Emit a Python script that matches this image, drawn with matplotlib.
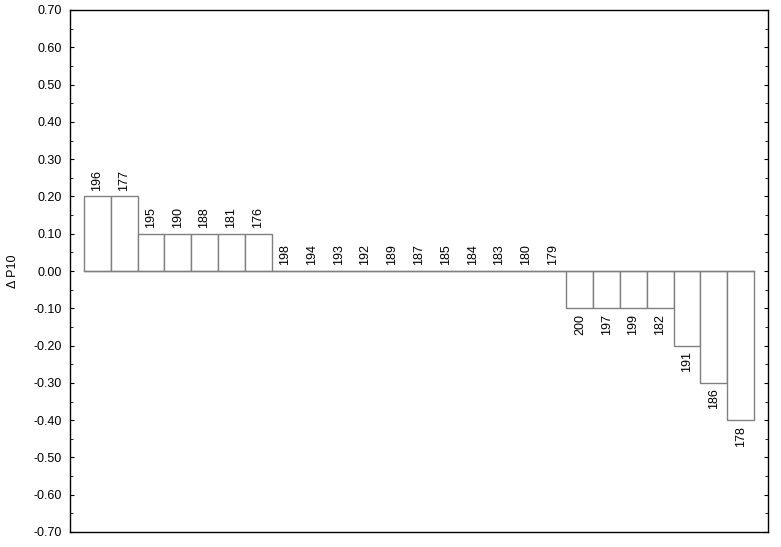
import matplotlib.pyplot as plt
from matplotlib.ticker import MultipleLocator, FormatStrFormatter

plt.rcParams['font.family'] = ['Liberation Sans', 'DejaVu Sans']

# 样本编号与 ΔP10 值
labels = ["196", "177", "195", "190", "188", "181", "176",
          "198", "194", "193", "192", "189", "187", "185", "184", "183", "180", "179",
          "200", "197", "199", "182", "191", "186", "178"]
values = [0.2, 0.2, 0.1, 0.1, 0.1, 0.1, 0.1,
          0, 0, 0, 0, 0, 0, 0, 0, 0, 0, 0,
          -0.1, -0.1, -0.1, -0.1, -0.2, -0.3, -0.4]

fig = plt.figure(figsize=(7.81, 5.47), dpi=100)
ax = fig.add_axes([70 / 781, 15 / 547, 698 / 781, 522 / 547])

x = list(range(len(values)))
ax.bar(x, values, width=1.0, facecolor="white", edgecolor="#808080", linewidth=1.0)
ax.plot([-0.5, len(values) - 0.5], [0, 0], color="#808080", linewidth=1.0)

for xi, v, lab in zip(x, values, labels):
    if v >= 0:
        ax.annotate(lab, (xi, v), xytext=(0, 4), textcoords="offset points",
                    rotation=90, ha="center", va="bottom", fontsize=9)
    else:
        ax.annotate(lab, (xi, v), xytext=(0, -4), textcoords="offset points",
                    rotation=90, ha="center", va="top", fontsize=9)

ax.set_xlim(-1.02, len(values) + 0.02)
ax.set_ylim(-0.7, 0.7)
ax.yaxis.set_major_locator(MultipleLocator(0.1))
ax.yaxis.set_minor_locator(MultipleLocator(0.05))
ax.yaxis.set_major_formatter(FormatStrFormatter("%.2f"))
ax.set_xticks([])
ax.tick_params(axis="y", which="both", direction="in", right=True, labelsize=9, pad=6)
ax.tick_params(axis="y", which="major", length=3)
ax.tick_params(axis="y", which="minor", length=2)
for s in ax.spines.values():
    s.set_linewidth(1.0)

ax.set_ylabel("Δ P10", fontsize=9)
ax.yaxis.set_label_coords(-0.073, 0.5)

fig.savefig("out.png", dpi=100)
